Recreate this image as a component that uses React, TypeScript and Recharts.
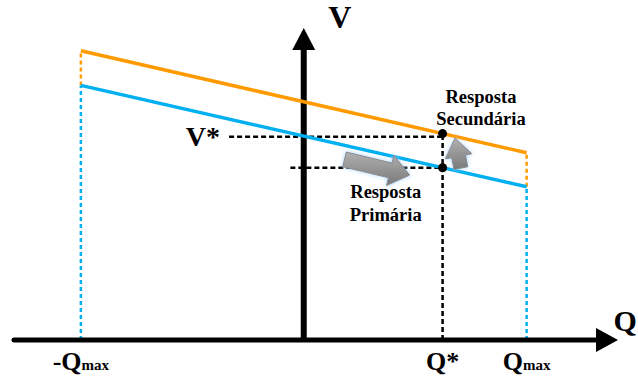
import { ComposedChart, Line, XAxis, YAxis, ReferenceLine, ReferenceDot } from "recharts";

// droop curves: reactive power Q (in units of Qmax) vs voltage V (arbitrary units)
const qLimits = [-1, 1];
const vPrimary = [81.6, 49.1];
const vSecondary = [92.7, 60.0];
const qStar = 0.623;

const tickValues = [-1, qStar, 1];
const tickMain = ["-Q", "Q*", "Q"];
const tickSub = ["max", "", "max"];

const ORANGE = "#FF9A00";
const BLUE = "#00B0F0";
const SERIF = "Liberation Serif, Times New Roman, DejaVu Serif, serif";

const toRows = (vs: number[]) => qLimits.map((q, i) => ({ q, v: vs[i] }));
const vAt = (vs: number[], q: number) =>
  vs[0] + ((q - qLimits[0]) / (qLimits[1] - qLimits[0])) * (vs[1] - vs[0]);

const vStarSec = vAt(vSecondary, qStar);
const vStarPri = vAt(vPrimary, qStar);

const rotate = (pts: number[][], deg: number, cx: number, cy: number) => {
  const a = (deg * Math.PI) / 180;
  return pts
    .map(([x, y]) => `${cx + x * Math.cos(a) - y * Math.sin(a)},${cy + x * Math.sin(a) + y * Math.cos(a)}`)
    .join(" ");
};

const ArrowDefs = () => (
  <defs>
    <linearGradient id="grayFill" x1="0" y1="0" x2="0" y2="1">
      <stop offset="0%" stopColor="#b0b0b0" />
      <stop offset="100%" stopColor="#7a7a7a" />
    </linearGradient>
    <filter id="glow" x="-30%" y="-30%" width="160%" height="160%">
      <feDropShadow dx="0" dy="0" stdDeviation="2" floodColor="#9fd0ff" floodOpacity="0.9" />
    </filter>
  </defs>
);

const BigArrow = (props: any) => (
  <g>
    <ArrowDefs />
    <polygon
      points={rotate(
        [[0, -7.5], [47, -7.5], [47, -15.5], [67, 0], [47, 15.5], [47, 7.5], [0, 7.5]],
        13.6,
        props.cx,
        props.cy
      )}
      fill="url(#grayFill)"
      stroke="#8a8a8a"
      strokeWidth={1}
      filter="url(#glow)"
    />
  </g>
);

const UpArrow = (props: any) => (
  <polygon
    points={rotate(
      [[-7, 0], [-7, -12], [-13.5, -12], [0, -30.5], [13.5, -12], [7, -12], [7, 0]],
      -11,
      props.cx,
      props.cy
    )}
    fill="url(#grayFill)"
    stroke="#8a8a8a"
    strokeWidth={1}
    filter="url(#glow)"
  />
);

const textStyle = { fontFamily: SERIF, fontWeight: 700 };

const label = (lines: string[], size: number, anchor: string, gap = 22) => (props: any) => (
  <text
    x={props.cx}
    y={props.cy}
    textAnchor={anchor}
    style={{ ...textStyle, fontSize: size }}
    fill="#000"
  >
    {lines.map((t, i) => (
      <tspan key={i} x={props.cx} dy={i === 0 ? 0 : gap}>
        {t}
      </tspan>
    ))}
  </text>
);

const QTick = (props: any) => {
  const { x, y, index } = props;
  return (
    <text x={x} y={y + 30} textAnchor="middle" style={textStyle} fill="#000">
      <tspan style={{ fontSize: 26 }}>{tickMain[index]}</tspan>
      {tickSub[index] && <tspan style={{ fontSize: 15 }}>{tickSub[index]}</tspan>}
    </text>
  );
};

const Triangle = (dir: "up" | "right") => (props: any) => {
  const { cx, cy } = props;
  const pts =
    dir === "up"
      ? `${cx},${cy} ${cx - 11.5},${cy + 22} ${cx + 11.5},${cy + 22}`
      : `${cx},${cy} ${cx - 22},${cy - 12} ${cx - 22},${cy + 12}`;
  return <polygon points={pts} fill="#000" />;
};

export default function App() {
  return (
    <div style={{ position: "absolute", left: 0, top: 0, background: "#fff" }}>
      <ComposedChart width={638} height={378} margin={{ top: 28, right: 20, bottom: 8, left: 14 }}>
        <XAxis
          type="number"
          dataKey="q"
          domain={[-1.3, 1.41]}
          allowDataOverflow
          ticks={tickValues}
          interval={0}
          axisLine={false}
          tickLine={false}
          tickSize={0}
          tickMargin={0}
          height={30}
          tick={<QTick />}
        />
        <YAxis type="number" dataKey="v" domain={[0, 100]} allowDataOverflow hide />

        {/* limit drop lines at ±Qmax */}
        {qLimits.map((q, i) => (
          <ReferenceLine
            key={`o${i}`}
            segment={[{ x: q, y: vPrimary[i] }, { x: q, y: vSecondary[i] }]}
            stroke={ORANGE}
            strokeWidth={2.5}
            strokeDasharray="4 3"
          />
        ))}
        {qLimits.map((q, i) => (
          <ReferenceLine
            key={`b${i}`}
            segment={[{ x: q, y: 0 }, { x: q, y: vPrimary[i] }]}
            stroke={BLUE}
            strokeWidth={2.5}
            strokeDasharray="4 3"
          />
        ))}

        {/* operating point guides */}
        <ReferenceLine
          segment={[{ x: qStar, y: 0 }, { x: qStar, y: vStarSec }]}
          stroke="#000"
          strokeWidth={2.5}
          strokeDasharray="5 3"
        />
        <ReferenceLine
          segment={[{ x: -0.335, y: vStarSec - 1 }, { x: qStar, y: vStarSec - 1 }]}
          stroke="#000"
          strokeWidth={2.5}
          strokeDasharray="5 3"
        />
        <ReferenceLine
          segment={[{ x: -0.06, y: vStarPri }, { x: qStar, y: vStarPri }]}
          stroke="#000"
          strokeWidth={2.5}
          strokeDasharray="5 3"
        />

        {/* axes */}
        <ReferenceLine
          segment={[{ x: -1.3, y: 0 }, { x: 1.33, y: 0 }]}
          stroke="#000"
          strokeWidth={5}
          strokeLinecap="round"
        />
        <ReferenceLine segment={[{ x: 0, y: 0 }, { x: 0, y: 93 }]} stroke="#000" strokeWidth={6} />
        <ReferenceDot x={0} y={100} r={0} ifOverflow="visible" shape={Triangle("up")} />
        <ReferenceDot x={1.41} y={0} r={0} ifOverflow="visible" shape={Triangle("right")} />

        <Line
          data={toRows(vSecondary)}
          dataKey="v"
          stroke={ORANGE}
          strokeWidth={3.5}
          dot={false}
          activeDot={false}
          isAnimationActive={false}
        />
        <Line
          data={toRows(vPrimary)}
          dataKey="v"
          stroke={BLUE}
          strokeWidth={3.5}
          dot={false}
          activeDot={false}
          isAnimationActive={false}
        />

        <ReferenceDot x={qStar} y={vStarSec} r={4.5} fill="#000" stroke="none" />
        <ReferenceDot x={qStar} y={vStarPri} r={4.5} fill="#000" stroke="none" />

        <ReferenceDot x={0.183} y={57.9} r={0} ifOverflow="visible" shape={BigArrow} />
        <ReferenceDot x={0.705} y={55.1} r={0} ifOverflow="visible" shape={UpArrow} />

        <ReferenceDot x={0.162} y={100} r={0} ifOverflow="visible" shape={label(["V"], 32, "middle")} />
        <ReferenceDot x={1.39} y={2.9} r={0} ifOverflow="visible" shape={label(["Q"], 30, "start")} />
        <ReferenceDot x={-0.376} y={62.2} r={0} ifOverflow="visible" shape={label(["V*"], 28, "end")} />
        <ReferenceDot
          x={0.795}
          y={76}
          r={0}
          ifOverflow="visible"
          shape={label(["Resposta", "Secundária"], 18.5, "middle")}
        />
        <ReferenceDot
          x={0.368}
          y={45.5}
          r={0}
          ifOverflow="visible"
          shape={label(["Resposta", "Primária"], 18.5, "middle", 23)}
        />
      </ComposedChart>
    </div>
  );
}
